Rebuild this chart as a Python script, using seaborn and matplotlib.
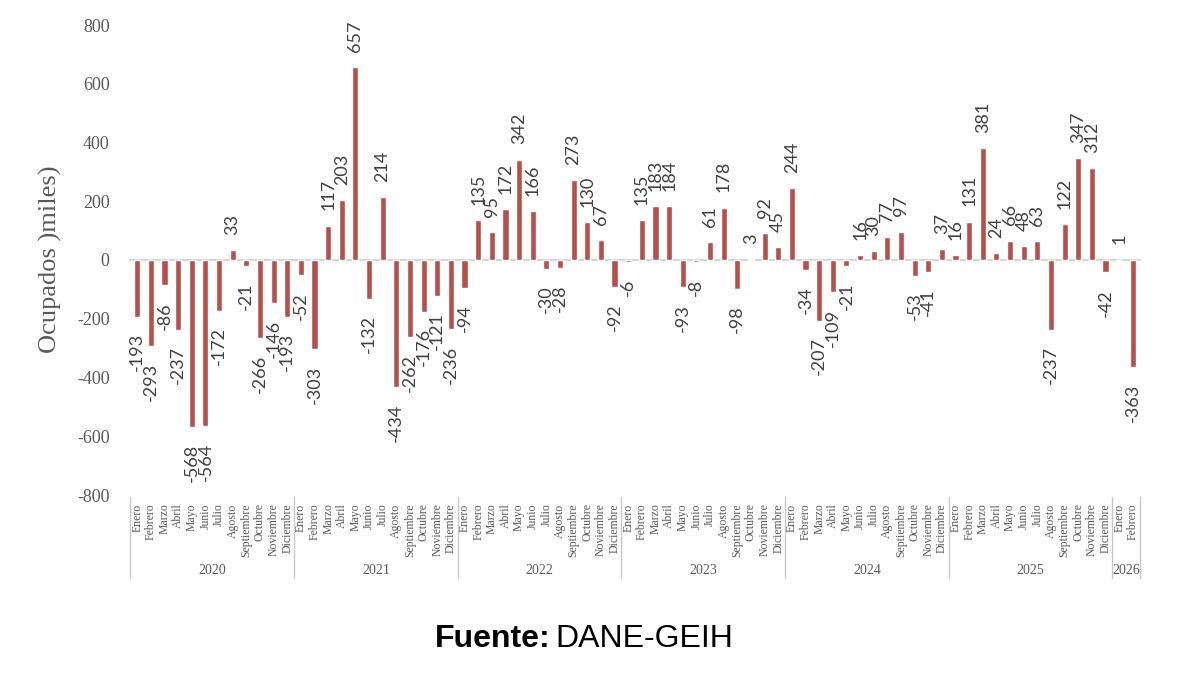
import matplotlib
matplotlib.use("Agg")
import matplotlib.pyplot as plt
import seaborn as sns
import pandas as pd
import numpy as np

years = ["2020", "2021", "2022", "2023", "2024", "2025", "2026"]
months = ["Enero", "Febrero", "Marzo", "Abril", "Mayo", "Junio", "Julio",
          "Agosto", "Septiembre", "Octubre", "Noviembre", "Diciembre"]

v2020 = [-193, -293, -86, -237, -568, -564, -172, 33, -21, -266, -146, -193]
v2021 = [-52, -303, 117, 203, 657, -132, 214, -434, -262, -176, -121, -236]
v2022 = [-94, 135, 95, 172, 342, 166, -30, -28, 273, 130, 67, -92]
v2023 = [-6, 135, 183, 184, -93, -8, 61, 178, -98, 3, 92, 45]
v2024 = [244, -34, -207, -109, -21, 16, 30, 77, 97, -53, -41, 37]
v2025 = [16, 131, 381, 24, 66, 48, 63, -237, 122, 347, 312, -42]
v2026 = [1, -363]

series = [v2020, v2021, v2022, v2023, v2024, v2025, v2026]

rows = []
for y, vals in zip(years, series):
    for m, v in zip(months, vals):
        rows.append({"key": f"{y}-{m}", "year": y, "month": m, "value": v})
df = pd.DataFrame(rows)

sns.set_theme(style="white")
BAR = "#B5504C"
GRAY = "#595959"

fig = plt.figure(figsize=(12, 6.76), dpi=100)
ax = fig.add_axes([129/1200, 1 - 495/676, (1141 - 129)/1200, (495 - 25)/676])

sns.barplot(data=df, x="key", y="value", color=BAR, saturation=1,
            width=0.45, ax=ax, zorder=2)
ax.axhline(0, color="#D6D6D6", lw=1.5, zorder=1)

ax.set_ylim(-800, 800)
ax.set_xlim(-0.6, len(df) - 0.4)
ax.set_yticks(np.arange(-800, 801, 200))
ax.set_yticklabels([str(t) for t in range(-800, 801, 200)],
                   family="Liberation Serif", fontsize=13, color=GRAY)
ax.tick_params(axis="y", length=0, pad=14)
ax.set_xticks(range(len(df)))
ax.set_xticklabels(df["month"], rotation=90, family="Liberation Serif",
                   fontsize=8.5, color=GRAY)
ax.tick_params(axis="x", length=0, pad=6)
ax.set_xlabel("")
ax.set_ylabel("")
for s in ax.spines.values():
    s.set_visible(False)

# value labels
for i, v in enumerate(df["value"]):
    if v >= 0:
        ax.annotate(str(v), (i, v), xytext=(0, 11), textcoords="offset points",
                    rotation=90, ha="center", va="bottom", family="Lato",
                    fontsize=13, color="#404040")
    else:
        ax.annotate(str(v), (i, v), xytext=(0, -12), textcoords="offset points",
                    rotation=90, ha="center", va="top", family="Lato",
                    fontsize=13, color="#404040")

# year groups
trans = ax.get_xaxis_transform()
start = 0
bounds = [-0.5]
for y, vals in zip(years, series):
    n = len(vals)
    center = start + (n - 1) / 2
    ax.text(center, -0.16, y, transform=trans, ha="center", va="center",
            family="Liberation Serif", fontsize=10, color=GRAY)
    start += n
    bounds.append(start - 0.5)
for b in bounds:
    ax.plot([b, b], [-0.005, -0.177], transform=trans, color="#C8C8C8",
            lw=1, clip_on=False)

fig.text(50/1200, 1 - 259/676, "Ocupados )miles)", rotation=90,
         ha="center", va="center", family="Liberation Serif", fontsize=19,
         color=GRAY)

fig.text(551/1200, 1 - 647/676, "Fuente:", ha="right", va="baseline",
         family="Liberation Sans", fontweight="bold", fontsize=23, color="black")
fig.text(555/1200, 1 - 647/676, "DANE-GEIH", ha="left", va="baseline",
         family="Liberation Sans", fontsize=23, color="black")

fig.savefig("out.png", dpi=100, facecolor="white")
